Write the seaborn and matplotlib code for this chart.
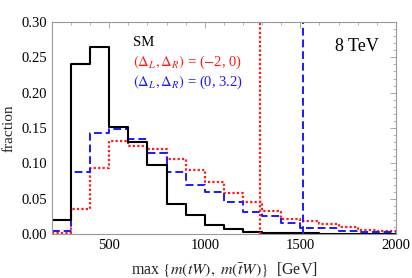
import numpy as np
import pandas as pd
import matplotlib
matplotlib.use("Agg")
import matplotlib.pyplot as plt
from matplotlib.ticker import MultipleLocator
import seaborn as sns

sns.set_theme(style="white")
plt.rcParams['font.family'] = ['Liberation Serif', 'DejaVu Serif']
plt.rcParams['mathtext.fontset'] = 'stix'

edges = [200, 300, 400, 500, 600, 700, 800, 900, 1000, 1100, 1200, 1300,
         1400, 1500, 1600, 1700, 1800, 1900, 2000]
sm = [0.020, 0.241, 0.265, 0.151, 0.130, 0.097, 0.042, 0.027, 0.013, 0.0075,
      0.003, 0.002, 0.002, 0.002, 0.0005, 0.0003, 0.0002, 0.0002]
red = [0.002, 0.035, 0.094, 0.132, 0.124, 0.121, 0.106, 0.091, 0.073, 0.058,
       0.046, 0.033, 0.021, 0.019, 0.0146, 0.010, 0.0057, 0.0047]
blue = [0.004, 0.088, 0.1435, 0.149, 0.134, 0.115, 0.088, 0.069, 0.060, 0.045,
        0.031, 0.026, 0.016, 0.008, 0.008, 0.0047, 0.003, 0.003]
cut_red = 1290
cut_blue = 1513

centers = [(a + b) / 2 for a, b in zip(edges[:-1], edges[1:])]
df = pd.DataFrame({"x": centers, "sm": sm, "red": red, "blue": blue})

fig = plt.figure(figsize=(4.12, 2.78), dpi=100)
ax = fig.add_axes([0.126, 0.158, 0.835, 0.763])

sns.histplot(data=df, x="x", weights="red", bins=edges, element="step", fill=False,
             color="#ff1a1a", linestyle=(0, (1, 1)), linewidth=1.6, ax=ax)
sns.histplot(data=df, x="x", weights="blue", bins=edges, element="step", fill=False,
             color="#1a1aff", linestyle=(0, (4, 2)), linewidth=1.4, ax=ax)
sns.histplot(data=df, x="x", weights="sm", bins=edges, element="step", fill=False,
             color="black", linewidth=1.5, ax=ax)

ax.axvline(cut_red, color="#ff1a1a", linestyle=(0, (1, 1)), linewidth=1.6)
ax.axvline(cut_blue, color="#1a1aff", linestyle=(0, (4, 2)), linewidth=1.4)

ax.set_xlim(200, 2000)
ax.set_ylim(0, 0.30)
ax.set_xticks([500, 1000, 1500, 2000])
ax.set_yticks([0.0, 0.05, 0.10, 0.15, 0.20, 0.25, 0.30])
ax.set_yticklabels(["0.00", "0.05", "0.10", "0.15", "0.20", "0.25", "0.30"])
ax.xaxis.set_minor_locator(MultipleLocator(100))
ax.yaxis.set_minor_locator(MultipleLocator(0.01))
ax.tick_params(which="both", direction="in", top=True, right=True, colors="#999999",
               labelcolor="black", labelsize=10.5)
ax.tick_params(which="major", length=4, width=0.6)
ax.tick_params(which="minor", length=2, width=0.5)
for s in ax.spines.values():
    s.set_color("#999999")
    s.set_linewidth(0.8)

ax.set_ylabel("fraction", fontsize=11)
ax.set_xlabel(r"max $\{m(tW),\ m(\bar{t}W)\}$  [GeV]", fontsize=11.5, labelpad=6)

ax.text(0.235, 0.905, "SM", transform=ax.transAxes, fontsize=10.5, color="black", va="center")
ax.text(0.235, 0.81, r"$(\Delta_L, \Delta_R)$ = ($-$2, 0)", transform=ax.transAxes,
        fontsize=10.5, color="#ff1a1a", va="center")
ax.text(0.235, 0.715, r"$(\Delta_L, \Delta_R)$ = (0, 3.2)", transform=ax.transAxes,
        fontsize=10.5, color="#1a1aff", va="center")
ax.text(0.95, 0.885, "8 TeV", transform=ax.transAxes, fontsize=13, color="black",
        ha="right", va="center")

fig.savefig("out.png", dpi=100)
